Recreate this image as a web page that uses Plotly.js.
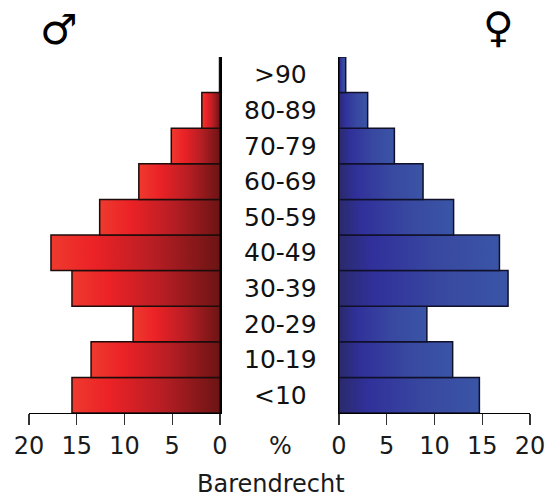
<!DOCTYPE html>
<html>
<head>
<meta charset="utf-8">
<script src="https://cdn.plot.ly/plotly-3.0.1.min.js"></script>
<style>
  html, body { margin: 0; padding: 0; background: #ffffff; }
  #chart { width: 549px; height: 500px; }
</style>
</head>
<body>
<div id="chart"></div>
<script>
// ---- data ----
const ages = ['<10', '10-19', '20-29', '30-39', '40-49', '50-59', '60-69', '70-79', '80-89', '>90'];
const male = [15.5, 13.5, 9.1, 15.5, 17.7, 12.6, 8.5, 5.1, 1.9, 0.05];
const female = [14.7, 11.9, 9.2, 17.7, 16.8, 12.0, 8.8, 5.8, 3.0, 0.7];
const tickVals = [0, 5, 10, 15, 20];
const tickText = ['0', '5', '10', '15', '20'];
const placeName = 'Barendrecht';
const unitLabel = '%';
const maleSymbol = '\u2642';
const femaleSymbol = '\u2640';

const FONT = 'DejaVu Sans, Verdana, sans-serif';

const traces = [
  {
    type: 'bar', orientation: 'h', x: male, y: ages, xaxis: 'x', yaxis: 'y',
    marker: { color: '#c8201f', line: { color: '#1c0c0c', width: 1.5 } },
    hoverinfo: 'skip', showlegend: false
  },
  {
    type: 'bar', orientation: 'h', x: female, y: ages, xaxis: 'x2', yaxis: 'y2',
    marker: { color: '#333f96', line: { color: '#10102a', width: 1.5 } },
    hoverinfo: 'skip', showlegend: false
  }
];

const W = 549, plotTop = 57, plotBottom = 413;
const H = plotBottom - plotTop;
const py = (pix) => (plotBottom - pix) / H;

const xCommon = {
  showgrid: false, zeroline: false, showline: true, linecolor: '#000', linewidth: 1.2,
  ticks: 'outside', ticklen: 11, tickwidth: 1.2, tickcolor: '#333',
  tickvals: tickVals, ticktext: tickText,
  tickfont: { family: FONT, size: 24, color: '#1a1a1a' }, fixedrange: true
};
const yCommon = {
  type: 'category', categoryorder: 'array', categoryarray: ages,
  showgrid: false, zeroline: false, showticklabels: false, ticks: '',
  showline: true, linecolor: '#000', linewidth: 1.5, fixedrange: true
};

const annotations = ages.map(a => ({
  text: a, x: 280 / W, xref: 'paper', y: a, yref: 'y', showarrow: false,
  xanchor: 'center', yanchor: 'middle',
  font: { family: FONT, size: 25, color: '#111' }
}));
annotations.push({
  text: unitLabel, x: 280 / W, xref: 'paper', y: py(446), yref: 'paper', showarrow: false,
  xanchor: 'center', yanchor: 'middle', font: { family: FONT, size: 24, color: '#1a1a1a' }
});
annotations.push({
  text: placeName, x: 271 / W, xref: 'paper', y: py(484), yref: 'paper', showarrow: false,
  xanchor: 'center', yanchor: 'middle', font: { family: FONT, size: 24, color: '#1a1a1a' }
});
annotations.push({
  text: maleSymbol, x: 59 / W, xref: 'paper', y: py(29), yref: 'paper', showarrow: false,
  xanchor: 'center', yanchor: 'middle', font: { family: FONT, size: 42, color: '#000' }
});
annotations.push({
  text: femaleSymbol, x: 498 / W, xref: 'paper', y: py(28), yref: 'paper', showarrow: false,
  xanchor: 'center', yanchor: 'middle', font: { family: FONT, size: 42, color: '#000' }
});

const layout = {
  width: 549, height: 500,
  margin: { l: 0, r: 0, t: plotTop, b: 500 - plotBottom, pad: 0 },
  paper_bgcolor: '#ffffff', plot_bgcolor: 'rgba(0,0,0,0)',
  bargap: 0, showlegend: false,
  xaxis: Object.assign({}, xCommon, { domain: [29 / W, 220 / W], range: [20, 0], anchor: 'y' }),
  yaxis: Object.assign({}, yCommon, { domain: [0, 1], anchor: 'x', side: 'right' }),
  xaxis2: Object.assign({}, xCommon, { domain: [339 / W, 530 / W], range: [0, 20], anchor: 'y2' }),
  yaxis2: Object.assign({}, yCommon, { domain: [0, 1], anchor: 'x2', side: 'left' }),
  annotations: annotations
};

const gd = document.getElementById('chart');
Plotly.newPlot(gd, traces, layout, { displayModeBar: false, staticPlot: true }).then(() => {
  const NS = 'http://www.w3.org/2000/svg';
  const svg = gd.querySelector('.main-svg');
  let defs = svg.querySelector('defs');
  if (!defs) { defs = document.createElementNS(NS, 'defs'); svg.insertBefore(defs, svg.firstChild); }
  function grad(id, stops) {
    const g = document.createElementNS(NS, 'linearGradient');
    g.setAttribute('id', id);
    g.setAttribute('x1', '0'); g.setAttribute('y1', '0');
    g.setAttribute('x2', '1'); g.setAttribute('y2', '0');
    stops.forEach(([o, c]) => {
      const s = document.createElementNS(NS, 'stop');
      s.setAttribute('offset', o); s.setAttribute('stop-color', c);
      g.appendChild(s);
    });
    defs.appendChild(g);
  }
  grad('gradMale', [[0, '#ee3a2e'], [0.25, '#ec2226'], [0.6, '#b81e24'], [1, '#6c1414']]);
  grad('gradFemale', [[0, '#2a2a6c'], [0.2, '#30309a'], [0.6, '#3848a0'], [1, '#3a55a6']]);
  const barTraces = gd.querySelectorAll('.barlayer .trace');
  const ids = ['gradMale', 'gradFemale'];
  barTraces.forEach((t, i) => {
    t.querySelectorAll('.point path').forEach(p => { p.style.fill = 'url(#' + ids[i] + ')'; });
  });
});
</script>
</body>
</html>
